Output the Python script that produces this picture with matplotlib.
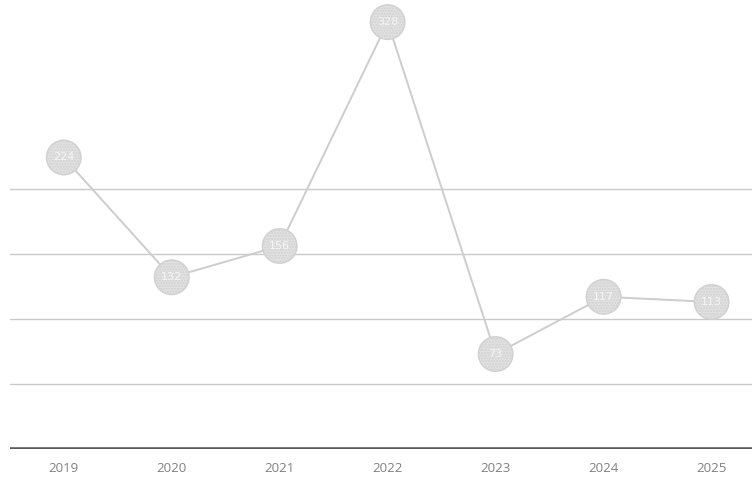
import matplotlib
matplotlib.use("Agg")
import matplotlib.pyplot as plt

years = ["2019", "2020", "2021", "2022", "2023", "2024", "2025"]
values = [224, 132, 156, 328, 73, 117, 113]
grid_levels = [50, 100, 150, 200]

fig = plt.figure(figsize=(7.52, 4.86), dpi=100)
ax = fig.add_axes([0.013, 0.076, 1.005, 0.924])

x = list(range(len(years)))

# faint horizontal gridlines
for g in grid_levels:
    ax.axhline(g, color="#cacaca", linewidth=1.0, zorder=1)

# baseline
ax.axhline(0, color="#5a5a5a", linewidth=2.6, zorder=2)

ax.plot(x, values, color="#cdcdcd", linewidth=1.4, zorder=3)
ax.scatter(x, values, s=620, color="#e2e2e2", edgecolors="#d0d0d0",
           linewidths=1.0, hatch="......", zorder=4)

for xi, v in zip(x, values):
    ax.text(xi, v, str(v), ha="center", va="center", fontsize=8,
            color="#f6f6f6", zorder=5)

ax.set_xlim(-0.5, len(years) - 0.5)
ax.set_ylim(0, 345)
ax.set_xticks(x)
ax.set_xticklabels(years, fontsize=9.5, color="#808080", family="Open Sans")
ax.tick_params(axis="x", length=0, pad=9)
ax.set_yticks([])
for side in ax.spines.values():
    side.set_visible(False)

fig.savefig("out.png", dpi=100)
